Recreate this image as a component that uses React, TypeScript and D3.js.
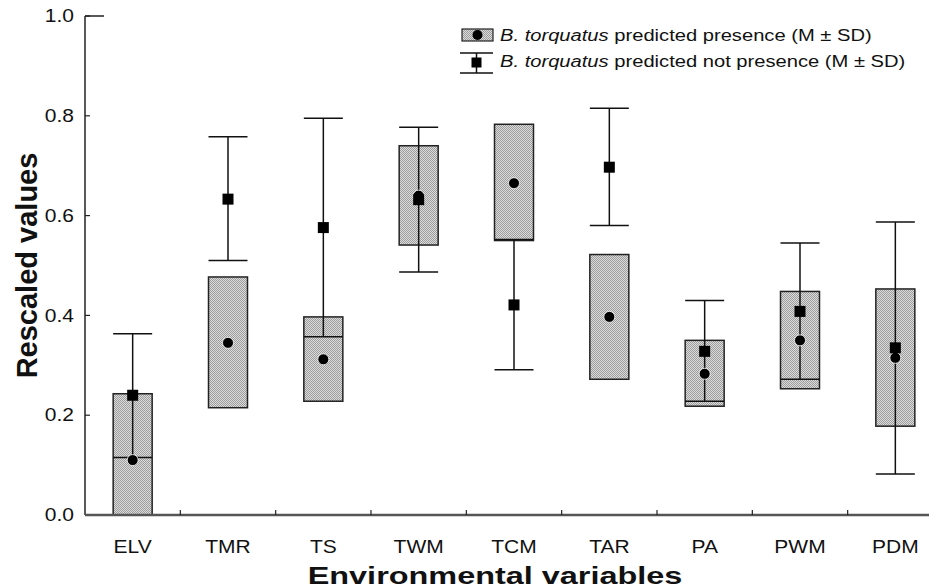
import React from 'react';
import * as d3 from 'd3';

// categories on the x axis
const variables = ['ELV', 'TMR', 'TS', 'TWM', 'TCM', 'TAR', 'PA', 'PWM', 'PDM'];

// predicted presence: mean, lower (M - SD), upper (M + SD)
const presenceMean = [0.11, 0.345, 0.312, 0.64, 0.665, 0.397, 0.283, 0.35, 0.315];
const presenceLow = [0.0, 0.215, 0.228, 0.541, 0.55, 0.272, 0.218, 0.253, 0.178];
const presenceHigh = [0.243, 0.477, 0.397, 0.74, 0.783, 0.522, 0.35, 0.448, 0.453];

// predicted not presence: mean, lower, upper
const absenceMean = [0.24, 0.633, 0.576, 0.632, 0.421, 0.697, 0.328, 0.408, 0.335];
const absenceLow = [0.115, 0.51, 0.357, 0.487, 0.291, 0.58, 0.228, 0.272, 0.082];
const absenceHigh = [0.363, 0.758, 0.795, 0.777, 0.552, 0.815, 0.43, 0.545, 0.587];

const yTicks = [0, 0.2, 0.4, 0.6, 0.8, 1.0];

const W = 929;
const H = 588;
const FONT = 'Arial, "Liberation Sans", sans-serif';
const SX = 1.2; // the picture's text is a bit wider than it is tall

export default function App() {
  const x = d3.scaleBand<string>().domain(variables).range([85, 943]);
  const y = d3.scaleLinear().domain([0, 1]).range([515, 16]);
  const bw = 39;
  const cx = (i: number) => (x(variables[i]) as number) + x.bandwidth() / 2;
  const boundaries = d3.range(1, variables.length).map((i) => 85 + i * x.bandwidth());

  return (
    <svg
      width={W}
      height={H}
      style={{ position: 'absolute', left: 0, top: 0, background: 'white' }}
      fontFamily={FONT}
    >
      <defs>
        <pattern id="hatch" width="2" height="2" patternUnits="userSpaceOnUse">
          <rect width="2" height="2" fill="#dcdcdc" />
          <rect width="1" height="1" fill="#9c9c9c" />
          <rect x="1" y="1" width="1" height="1" fill="#9c9c9c" />
        </pattern>
      </defs>
      <rect width={W} height={H} fill="white" />

      {/* presence boxes */}
      {variables.map((v, i) => (
        <rect
          key={'b' + v}
          x={cx(i) - bw / 2}
          y={y(presenceHigh[i])}
          width={bw}
          height={y(presenceLow[i]) - y(presenceHigh[i])}
          fill="url(#hatch)"
          stroke="#222"
          strokeWidth={1.5}
        />
      ))}

      {/* not presence error bars */}
      {variables.map((v, i) => (
        <g key={'e' + v} stroke="#111" strokeWidth={1.5}>
          <line x1={cx(i)} x2={cx(i)} y1={y(absenceHigh[i])} y2={y(absenceLow[i])} />
          <line x1={cx(i) - bw / 2} x2={cx(i) + bw / 2} y1={y(absenceHigh[i])} y2={y(absenceHigh[i])} />
          <line x1={cx(i) - bw / 2} x2={cx(i) + bw / 2} y1={y(absenceLow[i])} y2={y(absenceLow[i])} />
        </g>
      ))}

      {/* presence means */}
      {variables.map((v, i) => (
        <circle key={'c' + v} cx={cx(i)} cy={y(presenceMean[i])} r={5.5} fill="#000" stroke="white" strokeWidth={0.8} />
      ))}

      {/* not presence means */}
      {variables.map((v, i) => (
        <rect key={'s' + v} x={cx(i) - 5.5} y={y(absenceMean[i]) - 5.5} width={11} height={11} fill="#000" />
      ))}

      {/* y axis */}
      <line x1={85} x2={85} y1={y(1)} y2={y(0)} stroke="#222" strokeWidth={1.5} />
      <line x1={85} x2={104} y1={y(1)} y2={y(1)} stroke="#222" strokeWidth={1.5} />
      {yTicks.map((t) => (
        <g key={'yt' + t}>
          <line x1={85} x2={90} y1={y(t)} y2={y(t)} stroke="#222" strokeWidth={1.2} />
          <text
            transform={`translate(74,${y(t)}) scale(${SX},1)`}
            dy="0.35em"
            textAnchor="end"
            fontSize={17.5}
            fill="#111"
          >
            {d3.format('.1f')(t)}
          </text>
        </g>
      ))}

      {/* x axis */}
      <line x1={85} x2={929} y1={y(0)} y2={y(0)} stroke="#555" strokeWidth={2.5} />
      {boundaries.map((b) => (
        <line key={'xt' + b} x1={b} x2={b} y1={y(0)} y2={y(0) - 5} stroke="#222" strokeWidth={1.2} />
      ))}
      {variables.map((v, i) => (
        <text
          key={'xl' + v}
          transform={`translate(${cx(i)},553) scale(${SX},1)`}
          textAnchor="middle"
          fontSize={17.5}
          fill="#111"
        >
          {v}
        </text>
      ))}

      {/* axis titles */}
      <text
        transform={`translate(495,584) scale(1.38,1)`}
        textAnchor="middle"
        fontSize={23.5}
        fontWeight="bold"
        fill="#111"
      >
        Environmental variables
      </text>
      <text
        transform={`translate(37,${y(0.5)}) rotate(-90)`}
        textAnchor="middle"
        fontSize={29}
        fontWeight="bold"
        fill="#111"
      >
        Rescaled values
      </text>

      {/* legend */}
      <g>
        <rect x={462} y={29} width={31} height={12} fill="url(#hatch)" stroke="#222" strokeWidth={1.2} />
        <circle cx={477.5} cy={35} r={5} fill="#000" />
        <line x1={460} x2={493} y1={53} y2={53} stroke="#111" strokeWidth={1.5} />
        <line x1={460} x2={493} y1={73} y2={73} stroke="#111" strokeWidth={1.5} />
        <line x1={476.5} x2={476.5} y1={53} y2={73} stroke="#111" strokeWidth={1.5} />
        <rect x={471.5} y={57.5} width={10} height={10} fill="#000" />
        <text transform={`translate(500,41) scale(${SX},1)`} fontSize={16.8} fill="#111">
          <tspan fontStyle="italic">B. torquatus</tspan> predicted presence (M ± SD)
        </text>
        <text transform={`translate(500,67) scale(${SX},1)`} fontSize={16.8} fill="#111">
          <tspan fontStyle="italic">B. torquatus</tspan> predicted not presence (M ± SD)
        </text>
      </g>
    </svg>
  );
}
